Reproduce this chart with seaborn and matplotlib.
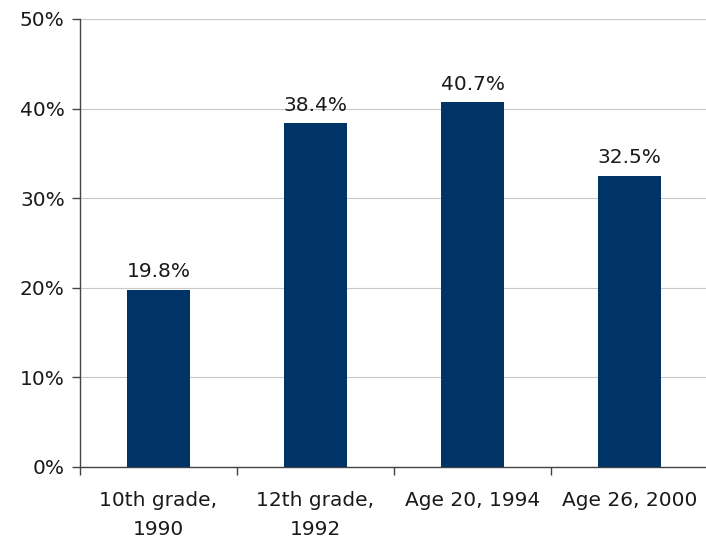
import matplotlib
matplotlib.use("Agg")
import matplotlib.pyplot as plt
import seaborn as sns
import pandas as pd
from matplotlib.ticker import FixedLocator, PercentFormatter

categories = ["10th grade,\n1990", "12th grade,\n1992", "Age 20, 1994", "Age 26, 2000"]
values = [19.8, 38.4, 40.7, 32.5]
value_labels = ["19.8%", "38.4%", "40.7%", "32.5%"]
y_ticks = [0, 10, 20, 30, 40, 50]

sns.set_theme(style="white")
plt.rcParams["font.family"] = ["DejaVu Sans"]

FS = 14.5
TXT = "#1a1a1a"

df = pd.DataFrame({"category": categories, "value": values})

fig = plt.figure(figsize=(7.06, 5.40), dpi=100)
ax = fig.add_axes([80 / 706, 73 / 540, 628 / 706, 448 / 540])

sns.barplot(data=df, x="category", y="value", color="#003366", width=0.4,
            saturation=1, linewidth=0, ax=ax, zorder=3)

ax.set_xlim(-0.5, len(categories) - 0.5)
ax.set_ylim(0, 50)
ax.set_yticks(y_ticks)
ax.yaxis.set_major_formatter(PercentFormatter(decimals=0))
ax.grid(axis="y", color="#c8c8c8", linewidth=0.8, zorder=0)
ax.set_xlabel("")
ax.set_ylabel("")

for s in ["top", "right"]:
    ax.spines[s].set_visible(False)
for s in ["left", "bottom"]:
    ax.spines[s].set_color("#444444")
    ax.spines[s].set_linewidth(1.0)

ax.tick_params(axis="x", which="major", length=0, pad=17.5, labelsize=FS, colors=TXT)
ax.xaxis.set_minor_locator(FixedLocator([i - 0.5 for i in range(len(categories) + 1)]))
ax.tick_params(axis="x", which="minor", length=6, width=1, color="#444444", direction="out", bottom=True)
ax.tick_params(axis="y", length=6, width=1, color="#444444", direction="out", left=True,
               labelsize=FS, labelcolor=TXT, pad=5)
for lbl in ax.get_xticklabels():
    lbl.set_linespacing(1.65)

for container in ax.containers:
    ax.bar_label(container, labels=value_labels, padding=6, fontsize=FS, color=TXT)

fig.savefig("out.png", dpi=100)
